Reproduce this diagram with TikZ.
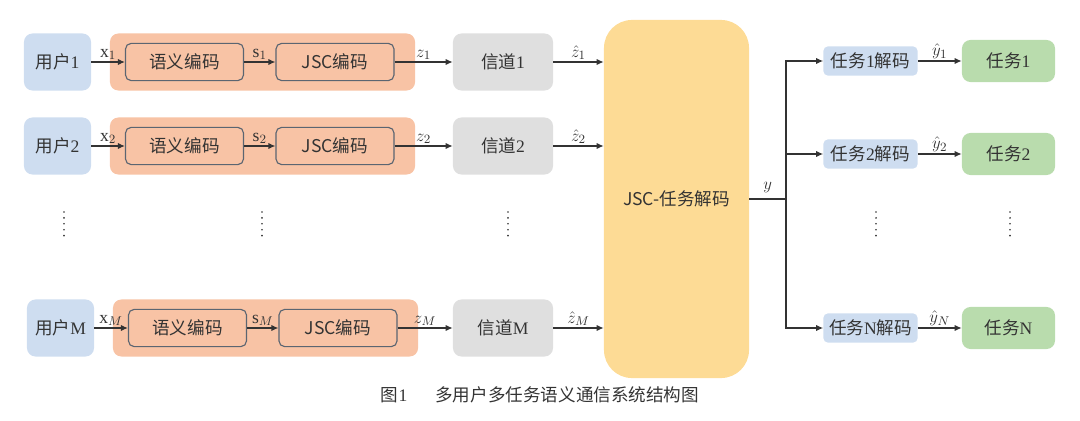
\documentclass[tikz,border=0pt]{standalone}
\usepackage{fontspec}
\setmainfont{Liberation Serif}
\newfontfamily\cjk{Noto Sans CJK SC}
\usetikzlibrary{arrows.meta}
\usetikzlibrary{calc}
\usetikzlibrary{positioning}
\definecolor{mtink}{HTML}{333333}
\definecolor{mtuser}{HTML}{CEDDF0}
\definecolor{mtenc}{HTML}{F8C3A5}
\definecolor{mtencline}{HTML}{5B6571}
\definecolor{mtchan}{HTML}{DFDFDF}
\definecolor{mtdec}{HTML}{FDDB95}
\definecolor{mttask}{HTML}{B9DCAD}
\tikzset{
  mtfont/.style={font=\fontsize{12.5}{14}\selectfont, text=mtink},
  mtuserbox/.style={
    mtfont, fill=mtuser, rounded corners=6pt, minimum width=1.675cm,
    minimum height=1.425cm, inner sep=0pt},
  mtgroup/.style={
    fill=mtenc, rounded corners=6pt, minimum width=7.625cm,
    minimum height=1.425cm, inner sep=0pt},
  mtencbox/.style={
    mtfont, draw=mtencline, fill=mtenc, rounded corners=4pt, line width=0.8pt,
    minimum width=2.95cm, minimum height=0.93cm, inner sep=0pt},
  mtchanbox/.style={
    mtfont, fill=mtchan, rounded corners=6pt, minimum width=2.5cm,
    minimum height=1.425cm, inner sep=0pt},
  mtbigbox/.style={
    mtfont, fill=mtdec, rounded corners=0.7cm, minimum width=3.625cm,
    minimum height=8.95cm, inner sep=0pt},
  mttdec/.style={
    mtfont, fill=mtuser, rounded corners=3pt, minimum width=2.35cm,
    minimum height=0.725cm, inner sep=0pt},
  mttaskbox/.style={
    mtfont, fill=mttask, rounded corners=6pt, minimum width=2.325cm,
    minimum height=1.05cm, inner sep=0pt},
  mtarrow/.style={-{Latex[length=5pt,width=4.5pt]}, draw=mtink, line width=0.9pt},
  mtlabel/.style={font=\fontsize{12.5}{14}\selectfont, text=mtink, inner sep=1pt},
  mtdots/.style={draw=mtink, line width=1.3pt, line cap=round,
    dash pattern=on 0pt off 4.2pt},
}

\begin{document}
\begin{tikzpicture}[x=0.025cm, y=-0.025cm]
\useasboundingbox (0,0) rectangle (1080,421);

% User rows: user, encoder group, channel.
\foreach \r/\yy/\dx in {1/62/0, 2/146/0, M/328/3} {
  \node[mtuserbox] (user\r) at (57.5+\dx, \yy) {{\cjk 用户}\r};
  \node[mtgroup] (grp\r) at (262.5+\dx, \yy) {};
  \node[mtencbox] (sem\r) at (184.5+\dx, \yy) {\cjk 语义编码};
  \node[mtencbox] (jsc\r) at (335+\dx, \yy) {\cjk JSC编码};
  \node[mtchanbox] (chan\r) at (503, \yy) {{\cjk 信道}\r};
  \draw[mtarrow] (user\r.east) -- (sem\r.west)
    node[midway, above, mtlabel] {$\mathrm{x}_{\r}$};
  \draw[mtarrow] (sem\r.east) -- (jsc\r.west)
    node[midway, above, mtlabel] {$\mathrm{s}_{\r}$};
  \draw[mtarrow] (jsc\r.east) -- (chan\r.west)
    node[midway, above, mtlabel] {$z_{\r}$};
}

% Joint decoder.
\node[mtbigbox] (big) at (676.5, 199) {{\cjk JSC-任务解码}};
\foreach \r in {1, 2, M} {
  \draw[mtarrow] (chan\r.east) -- (chan\r.east -| big.west)
    node[midway, above, mtlabel] {$\hat{z}_{\r}$};
}

% Task branches.
\coordinate (split) at (786, 199);
\draw[draw=mtink, line width=0.9pt] (big.east) -- (split)
  node[midway, above=3pt, mtlabel] {$y$};
\foreach \r/\yy in {1/61, 2/154, N/328} {
  \node[mttdec] (tdec\r) at (870.5, \yy) {{\cjk 任务}\r{\cjk 解码}};
  \node[mttaskbox] (task\r) at (1008.5, \yy) {{\cjk 任务}\r};
  \draw[mtarrow] (split) |- (tdec\r.west);
  \draw[mtarrow] (tdec\r.east) -- (task\r.west)
    node[midway, above, mtlabel] {$\hat{y}_{\r}$};
}

% Ellipsis dots.
\foreach \xx in {64, 262, 508, 876, 1010} {
  \draw[mtdots] (\xx, 212) -- (\xx, 241);
}

% Caption.
\node[mtfont] (caption) at (540, 395)
  {{\cjk 图}1\hspace{1.6em}{\cjk 多用户多任务语义通信系统结构图}};

\end{tikzpicture}
\end{document}
